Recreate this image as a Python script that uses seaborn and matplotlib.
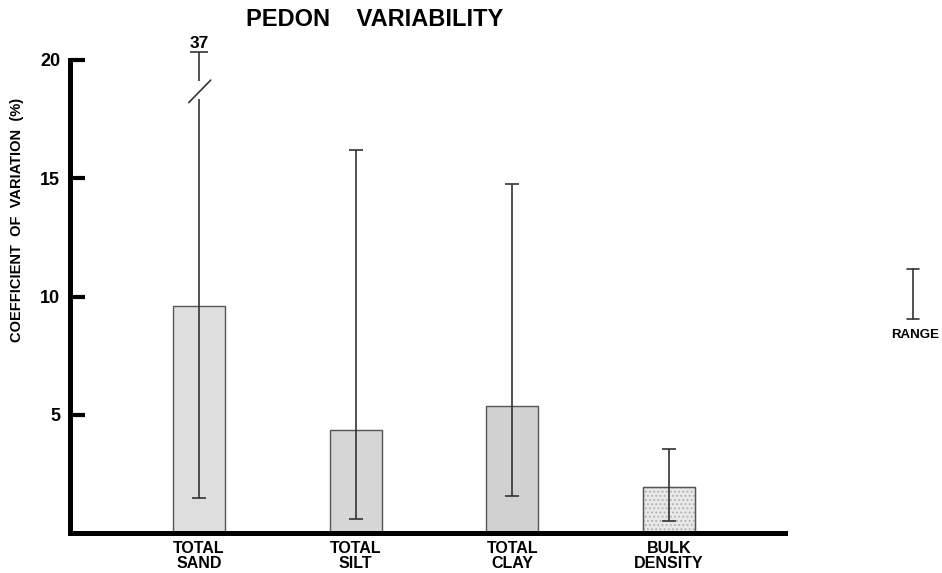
import matplotlib
matplotlib.use("Agg")
import matplotlib.pyplot as plt
import seaborn as sns
import pandas as pd
from matplotlib.lines import Line2D
from matplotlib.patches import Rectangle

# ---- data ----
categories = ["TOTAL\nSAND", "TOTAL\nSILT", "TOTAL\nCLAY", "BULK\nDENSITY"]
cv_mean = [9.6, 4.35, 5.35, 1.95]
range_low = [1.5, 0.6, 1.55, 0.5]
range_high = [37, 16.2, 14.75, 3.55]
y_ticks = [5, 10, 15, 20]

sns.set_theme(style="white")
plt.rcParams['font.family'] = ['Liberation Sans', 'DejaVu Sans']
plt.rcParams['font.weight'] = 'bold'
plt.rcParams['text.color'] = 'black'
plt.rcParams['xtick.color'] = 'black'
plt.rcParams['ytick.color'] = 'black'
plt.rcParams['hatch.linewidth'] = 0.8

W, H = 942, 573
fig = plt.figure(figsize=(W / 100, H / 100), dpi=100)


def fx(px):
    return px / W


def fy(py):
    return 1 - py / H


ax = fig.add_axes([fx(70), fy(533), fx(785) - fx(70), fy(60) - fy(533)])

df = pd.DataFrame({"cat": categories, "cv": cv_mean})
fills = ["#dedede", "#d6d6d6", "#d1d1d1", "#e8e8e8"]
sns.barplot(data=df, x="cat", y="cv", hue="cat", palette=fills, width=0.33,
            edgecolor="#555555", linewidth=1.0, legend=False, ax=ax,
            saturation=1)
# stippled bulk-density bar: light hatch, dark outline on top
bp = ax.patches[3]
bp.set_hatch("....")
bp.set_edgecolor("#b0b0b0")
ax.add_patch(Rectangle(bp.get_xy(), bp.get_width(), bp.get_height(),
                       fill=False, edgecolor="#555555", linewidth=1.0))

ax.set_ylim(0, 20)
ax.set_xlim(-0.823, 3.74)

# ranges
line_kw = dict(color="#333333", linewidth=1.2)
cap = 0.045
top_disp = 20.35
for i, (lo, hi) in enumerate(zip(range_low, range_high)):
    if hi > 20:
        ax.vlines(i, lo, 18.35, **line_kw)
        ax.vlines(i, 19.1, top_disp, clip_on=False, **line_kw)
        ax.plot([i - 0.065, i + 0.075], [18.2, 19.15], clip_on=False, **line_kw)
        ax.hlines(top_disp, i - 0.055, i + 0.055, clip_on=False, **line_kw)
        ax.text(i, top_disp + 0.05, f"{hi:g}", ha="center", va="bottom",
                fontsize=12.5, fontweight="bold")
    else:
        ax.vlines(i, lo, hi, **line_kw)
        ax.hlines(hi, i - cap, i + cap, **line_kw)
    ax.hlines(lo, i - cap, i + cap, **line_kw)

# axes styling
for s in ["top", "right"]:
    ax.spines[s].set_visible(False)
for s in ["left", "bottom"]:
    ax.spines[s].set_linewidth(3.6)
    ax.spines[s].set_color("black")
ax.set_yticks(y_ticks)
ax.set_yticklabels([str(t) for t in y_ticks])
ax.tick_params(axis="y", direction="in", length=11, width=3, labelsize=13,
               pad=7, colors="black", left=True)
ax.tick_params(axis="x", length=0, pad=6, labelsize=11.5, colors="black")
for lab in ax.get_xticklabels():
    lab.set_linespacing(1.0)
    lab.set_fontweight("bold")
for lab in ax.get_yticklabels():
    lab.set_fontweight("bold")
ax.set_xlabel("")
ax.set_ylabel("")

# texts
fig.text(fx(17), fy(220), "COEFFICIENT  OF  VARIATION  (%)", rotation=90,
         ha="center", va="center", fontsize=10.5, fontweight="bold")
fig.text(fx(375), fy(20), "PEDON    VARIABILITY", ha="center", va="center",
         fontsize=17, fontweight="bold")

# legend
lx = 913
fig.add_artist(Line2D([fx(lx), fx(lx)], [fy(269), fy(319)], color="#333333", lw=1.2))
fig.add_artist(Line2D([fx(lx - 6), fx(lx + 6)], [fy(269), fy(269)], color="#333333", lw=1.2))
fig.add_artist(Line2D([fx(lx - 6), fx(lx + 6)], [fy(319), fy(319)], color="#333333", lw=1.2))
fig.text(fx(lx + 2), fy(335), "RANGE", ha="center", va="center", fontsize=9.5,
         fontweight="bold")

fig.savefig("out.png", dpi=100)
